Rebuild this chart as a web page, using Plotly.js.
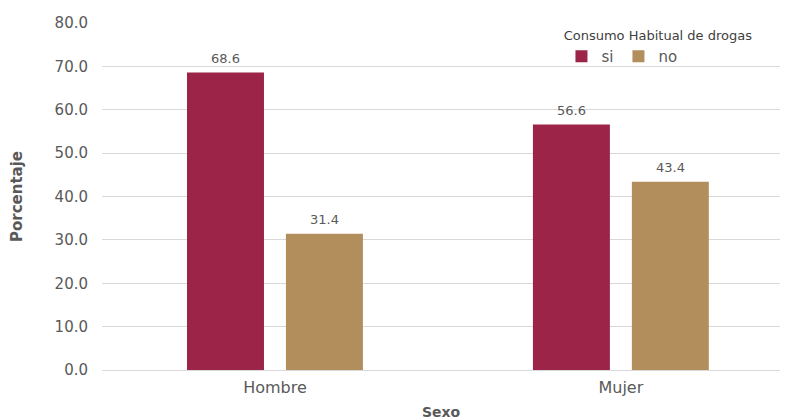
<!DOCTYPE html>
<html><head><meta charset="utf-8">
<script src="https://cdn.plot.ly/plotly-3.0.1.min.js"></script>
<style>body{margin:0;background:#fff}#c{width:786px;height:420px}</style>
</head><body><div id="c"></div>
<script>
const categories = ["Hombre", "Mujer"];
const siValues = [68.6, 56.6];
const noValues = [31.4, 43.4];
const seriesNames = ["si", "no"];
const yTicks = [0, 10, 20, 30, 40, 50, 60, 70, 80];

const FONT = "DejaVu Sans, Verdana, sans-serif";
const GRAY = "#595959";
const colors = ["#9D2449", "#B38E5D"];
const allSeries = [siValues, noValues];

const traces = allSeries.map((vals, i) => ({
  type: "bar",
  name: seriesNames[i],
  x: categories,
  y: vals,
  marker: {color: colors[i]},
  hoverinfo: "none"
}));

// value labels above each bar
const annotations = [];
allSeries.forEach((vals, i) => {
  vals.forEach((v, j) => {
    annotations.push({
      x: j, y: v, xref: "x", yref: "y",
      xshift: (i === 0 ? -49.5 : 49.5), yshift: 14,
      text: v.toFixed(1), showarrow: false,
      xanchor: "center", yanchor: "middle",
      font: {family: FONT, size: 13, color: GRAY}
    });
  });
});

const layout = {
  width: 786, height: 420,
  margin: {l: 102, r: 6, t: 23, b: 50},
  paper_bgcolor: "#fff", plot_bgcolor: "#fff",
  barmode: "group",
  bargap: 0.428,
  bargroupgap: 0.222,
  font: {family: FONT, color: GRAY},
  annotations: annotations,
  xaxis: {
    type: "category",
    range: [-0.5, 1.46],
    showgrid: false, zeroline: false, showline: false,
    ticks: "",
    ticklabelstandoff: 6,
    tickfont: {family: FONT, size: 16, color: GRAY},
    title: {text: "<b>Sexo</b>", font: {family: FONT, size: 14, color: GRAY}, standoff: 14}
  },
  yaxis: {
    range: [0, 80],
    tickvals: yTicks,
    ticktext: yTicks.map(v => v.toFixed(1)),
    showgrid: true, gridcolor: "#D9D9D9", gridwidth: 1,
    zeroline: true, zerolinecolor: "#D9D9D9", zerolinewidth: 1,
    showline: false, ticks: "",
    ticklabelstandoff: 13,
    tickfont: {family: FONT, size: 15, color: GRAY},
    title: {text: "<b>Porcentaje</b>", font: {family: FONT, size: 15, color: GRAY}, standoff: 28}
  },
  legend: {
    orientation: "h",
    x: 0.82, xanchor: "center",
    y: 1.0, yanchor: "top",
    bgcolor: "rgba(255,255,255,0)",
    title: {text: "Consumo Habitual de drogas", side: "top center", font: {family: FONT, size: 13, color: "#404040"}},
    font: {family: FONT, size: 15, color: GRAY},
    itemwidth: 30,
    traceorder: "normal"
  },
  showlegend: true
};

Plotly.newPlot("c", traces, layout, {displayModeBar: false, staticPlot: true});
</script></body></html>
